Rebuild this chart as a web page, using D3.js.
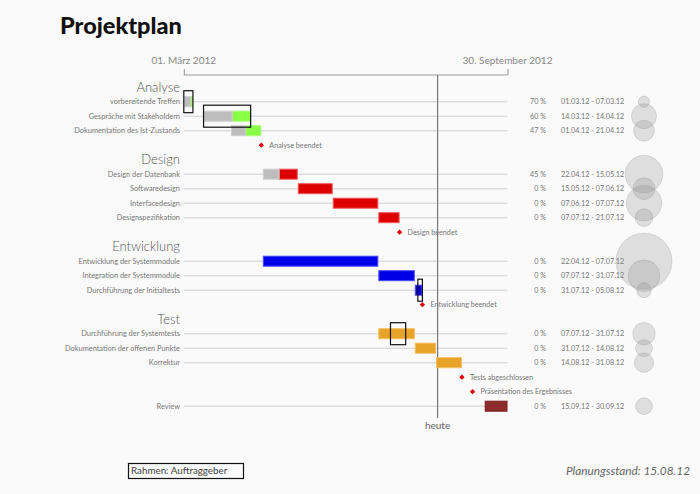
<!DOCTYPE html>
<html><head><meta charset="utf-8">
<script src="https://cdn.jsdelivr.net/npm/d3@7"></script>
<style>
html,body{margin:0;padding:0;background:#fafafa;}
svg{display:block;font-family:Lato,"Open Sans",sans-serif;}
</style></head>
<body>
<svg id="chart" width="700" height="494"></svg>
<script>
// ---------- data ----------
const rowLabels = [
  "Analyse","vorbereitende Treffen","Gespräche mit Stakeholdern","Dokumentation des Ist-Zustands","Analyse beendet",
  "Design","Design der Datenbank","Softwaredesign","Interfacedesign","Designspezifikation","Design beendet",
  "Entwicklung","Entwicklung der Systemmodule","Integration der Systemmodule","Durchführung der Initialtests","Entwicklung beendet",
  "Test","Durchführung der Systemtests","Dokumentation der offenen Punkte","Korrektur","Tests abgeschlossen","Präsentation des Ergebnisses",
  "Review"
];
const rowKinds = ["H","T","T","T","M","H","T","T","T","T","M","H","T","T","T","M","H","T","T","T","M","M","T"];

const taskNames = ["vorbereitende Treffen","Gespräche mit Stakeholdern","Dokumentation des Ist-Zustands",
  "Design der Datenbank","Softwaredesign","Interfacedesign","Designspezifikation",
  "Entwicklung der Systemmodule","Integration der Systemmodule","Durchführung der Initialtests",
  "Durchführung der Systemtests","Dokumentation der offenen Punkte","Korrektur","Review"];
const taskGroup = ["Analyse","Analyse","Analyse","Design","Design","Design","Design",
  "Entwicklung","Entwicklung","Entwicklung","Test","Test","Test","Review"];
const taskStart = ["01.03.12","14.03.12","01.04.12","22.04.12","15.05.12","07.06.12","07.07.12",
  "22.04.12","07.07.12","31.07.12","07.07.12","31.07.12","14.08.12","15.09.12"];
const taskEnd = ["07.03.12","14.04.12","21.04.12","15.05.12","07.06.12","07.07.12","21.07.12",
  "07.07.12","31.07.12","05.08.12","31.07.12","14.08.12","31.08.12","30.09.12"];
const taskProgress = [70,60,47,45,0,0,0,0,0,0,0,0,0,0];
const taskEffort = [4,20,14,45,15,40,10,100,32,7,16,9,12,9];

const milestoneNames = ["Analyse beendet","Design beendet","Entwicklung beendet","Tests abgeschlossen","Präsentation des Ergebnisses"];
const milestoneDates = ["21.04.12","21.07.12","05.08.12","31.08.12","07.09.12"];

const frameTasks = ["vorbereitende Treffen","Gespräche mit Stakeholdern","Durchführung der Initialtests","Durchführung der Systemtests"];
const frameStart = ["01.03.12","14.03.12","02.08.12","15.07.12"];
const frameEnd = ["07.03.12","14.04.12","05.08.12","25.07.12"];

const axisStart = "01.03.12", axisEnd = "30.09.12";
const axisLabels = ["01. März 2012","30. September 2012"];
const today = "15.08.12";
const todayLabel = "heute";
const title = "Projektplan";
const legendLabel = "Rahmen: Auftraggeber";
const statusLabel = "Planungsstand: 15.08.12";

const groupColors = {Analyse:["#88ff44","#a6ff78"],Design:["#dd0000","#ee5a5a"],Entwicklung:["#0000e6","#4a4aff"],Test:["#e8a329","#f2bd5e"],Review:["#8e2b2b","#7a1f1f"]};

// ---------- scales ----------
const parse = d3.timeParse("%d.%m.%y");
const svg = d3.select("#chart");
const x = d3.scaleTime().domain([parse(axisStart), parse(axisEnd)]).range([183.8, 507.5]);
const y = d3.scaleLinear().domain([0, rowLabels.length - 1]).range([87.2, 406.2]);
const r = d3.scaleSqrt().domain([0, 100]).range([0, 28]);
const rowIndex = name => rowLabels.indexOf(name);

// title
svg.append("text").attr("x", 60).attr("y", 34).attr("font-size", 23.5).attr("font-weight", 900)
  .attr("fill", "#111").text(title);

// top axis bracket
const axisG = svg.append("g").attr("transform", "translate(0,75)");
const topAxis = d3.axisTop(x).tickValues([parse(axisStart), parse(axisEnd)]).tickSize(6).tickFormat("");
axisG.call(topAxis);
axisG.select(".domain").remove();
axisG.selectAll(".tick line").attr("stroke", "#999");
axisG.append("line").attr("x1", x(parse(axisStart))).attr("x2", x(parse(axisEnd))).attr("stroke", "#999");
svg.selectAll("text.axlab").data([axisStart, axisEnd]).enter().append("text").attr("class","axlab")
  .attr("x", d => x(parse(d))).attr("y", 64).attr("text-anchor", "middle").attr("font-size", 10)
  .attr("fill", "#888").text((d, i) => axisLabels[i]);

// gridlines
const taskRows = rowLabels.map((l, i) => ({l, i})).filter(d => rowKinds[d.i] === "T");
svg.selectAll("line.grid").data(taskRows).enter().append("line").attr("class","grid")
  .attr("x1", x.range()[0]).attr("x2", x.range()[1]).attr("y1", d => y(d.i)).attr("y2", d => y(d.i))
  .attr("stroke", "#ddd").attr("stroke-width", 1.5);

// row labels
svg.selectAll("text.rl").data(rowLabels.map((l, i) => ({l, i})).filter(d => rowKinds[d.i] !== "M"))
  .enter().append("text").attr("class","rl")
  .attr("x", 180).attr("y", d => y(d.i)).attr("dy", "0.35em").attr("text-anchor", "end")
  .attr("font-size", d => rowKinds[d.i] === "H" ? 13 : 7.4)
  .attr("font-weight", d => rowKinds[d.i] === "H" ? 300 : 400)
  .attr("fill", d => rowKinds[d.i] === "H" ? "#555" : "#777")
  .text(d => d.l);

// today line
const tx = x(parse(today));
svg.append("line").attr("x1", tx).attr("x2", tx).attr("y1", 75).attr("y2", 418)
  .attr("stroke", "#777").attr("stroke-width", 1.2);
svg.append("text").attr("x", tx).attr("y", 429).attr("text-anchor", "middle").attr("font-size", 10)
  .attr("fill", "#666").text(todayLabel);

// bars
const tasks = taskNames.map((n, i) => ({n, i, s: parse(taskStart[i]), e: parse(taskEnd[i]), p: taskProgress[i], g: taskGroup[i], row: rowIndex(n)}));
const bh = 11;
const bars = svg.append("g");
tasks.forEach(t => {
  const x0 = x(t.s), x1 = x(t.e), w = x1 - x0, pw = w * t.p / 100;
  const c = groupColors[t.g];
  bars.append("rect").attr("x", x0 + pw + 0.5).attr("y", y(t.row) - bh/2 + 0.5).attr("width", Math.max(0, w - pw - 1)).attr("height", bh - 1)
    .attr("fill", c[0]).attr("stroke", c[1]).attr("stroke-width", 1);
  if (pw > 0) bars.append("rect").attr("x", x0 + 0.5).attr("y", y(t.row) - bh/2 + 0.5).attr("width", pw).attr("height", bh - 1)
    .attr("fill", "#bdbdbd").attr("stroke", "#cfcfcf").attr("stroke-width", 1);
});

// frames
svg.selectAll("rect.frame").data(frameTasks.map((n, i) => ({row: rowIndex(n), s: parse(frameStart[i]), e: parse(frameEnd[i])})))
  .enter().append("rect").attr("class","frame")
  .attr("x", d => x(d.s)).attr("width", d => x(d.e) - x(d.s)).attr("y", d => y(d.row) - 11).attr("height", 22)
  .attr("fill", "none").attr("stroke", "#111").attr("stroke-width", 1.2);

// milestones
const ms = milestoneNames.map((n, i) => ({n, d: parse(milestoneDates[i]), row: rowIndex(n)}));
svg.selectAll("path.ms").data(ms).enter().append("path").attr("class","ms")
  .attr("transform", d => `translate(${x(d.d)},${y(d.row)}) rotate(45)`)
  .attr("d", d3.symbol().type(d3.symbolSquare).size(14)).attr("fill", "#e00000");
svg.selectAll("text.ms").data(ms).enter().append("text").attr("class","ms")
  .attr("x", d => x(d.d) + 8).attr("y", d => y(d.row)).attr("dy", "0.35em").attr("font-size", 7.2)
  .attr("fill", "#777").text(d => d.n);

// right columns
svg.selectAll("text.pct").data(tasks).enter().append("text").attr("class","pct")
  .attr("x", 546).attr("y", d => y(d.row)).attr("dy", "0.35em").attr("text-anchor", "end")
  .attr("font-size", 7.2).attr("fill", "#777").text(d => d.p + " %");
svg.selectAll("text.dt").data(tasks).enter().append("text").attr("class","dt")
  .attr("x", 561).attr("y", d => y(d.row)).attr("dy", "0.35em")
  .attr("font-size", 7.2).attr("fill", "#777").text(d => taskStart[d.i] + " - " + taskEnd[d.i]);
svg.selectAll("circle.eff").data(tasks).enter().append("circle").attr("class","eff")
  .attr("cx", 644).attr("cy", d => y(d.row)).attr("r", d => r(taskEffort[d.i]))
  .attr("fill", "rgba(140,140,140,0.25)").attr("stroke", "rgba(140,140,140,0.25)").attr("stroke-width", 1);

// legend + status
svg.append("rect").attr("x", 128.5).attr("y", 463.5).attr("width", 115).attr("height", 15)
  .attr("fill", "none").attr("stroke", "#111").attr("stroke-width", 1.2);
svg.append("text").attr("x", 131).attr("y", 471).attr("dy", "0.35em").attr("font-size", 9.8)
  .attr("fill", "#444").text(legendLabel);
svg.append("text").attr("x", 690).attr("y", 475).attr("text-anchor", "end").attr("font-size", 11.8)
  .attr("font-style", "italic").attr("fill", "#666").text(statusLabel);
</script>
</body></html>
